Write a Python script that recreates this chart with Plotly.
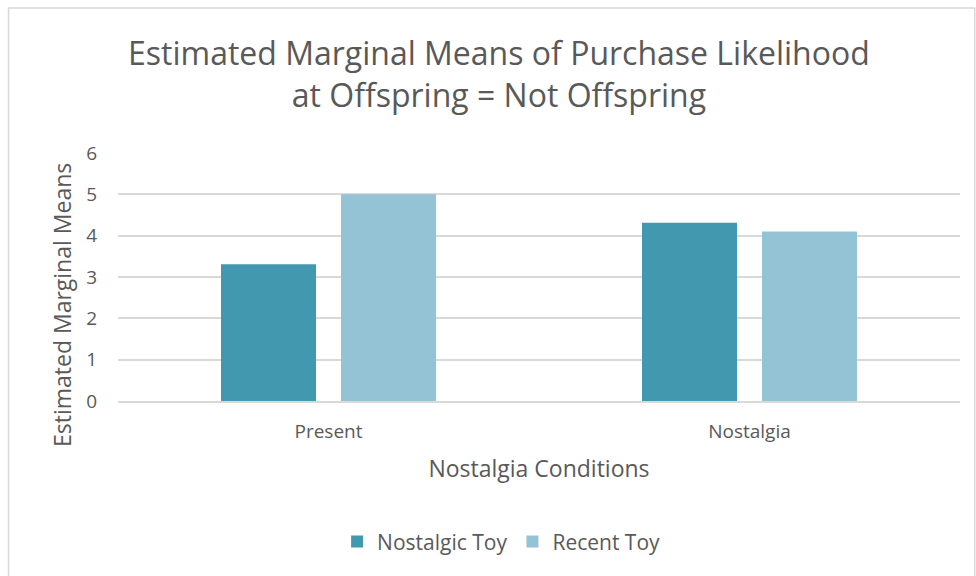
import plotly.graph_objects as go

categories = ["Present", "Nostalgia"]
nostalgic_toy = [3.31, 4.31]
recent_toy = [5.0, 4.1]
series_names = ["Nostalgic Toy", "Recent Toy"]
colors = ["#4298AF", "#93C3D5"]

FONT = "Open Sans"
GRAY = "#595959"

fig = go.Figure()
fig.add_trace(go.Bar(x=categories, y=nostalgic_toy, name=series_names[0],
                     marker=dict(color=colors[0], line=dict(width=0))))
fig.add_trace(go.Bar(x=categories, y=recent_toy, name=series_names[1],
                     marker=dict(color=colors[1], line=dict(width=0))))

fig.update_layout(
    width=976, height=576,
    paper_bgcolor="white", plot_bgcolor="white",
    margin=dict(l=118, r=16, t=153, b=175),
    barmode="group", bargap=0.43, bargroupgap=0.208,
    font=dict(family=FONT, color=GRAY),
    showlegend=True,
    legend=dict(orientation="h", x=0.455, xanchor="center", y=-0.568, yanchor="middle",
                font=dict(size=21, color=GRAY), itemwidth=30,
                traceorder="normal"),
    shapes=[dict(type="rect", xref="paper", yref="paper",
                 x0=-0.130, x1=1.0175, y0=-0.8, y1=1.585,
                 line=dict(color="#D9D9D9", width=1.5), fillcolor="rgba(0,0,0,0)", layer="below")],
    annotations=[
        dict(text="Estimated Marginal Means of Purchase Likelihood<br>at Offspring = Not Offspring",
             xref="paper", yref="paper", x=0.452, y=1.322, xanchor="center", yanchor="middle",
             showarrow=False, font=dict(size=32, color=GRAY, family=FONT)),
        dict(text="Estimated Marginal Means", textangle=-90,
             xref="paper", yref="paper", x=-0.0665, y=0.387, xanchor="center", yanchor="middle",
             showarrow=False, font=dict(size=23, color=GRAY, family=FONT)),
    ],
)
fig.update_xaxes(showgrid=False, showline=True, linecolor="#D9D9D9", linewidth=1.5,
                 ticks="", tickfont=dict(size=19, color=GRAY), ticklabelstandoff=12,
                 title=dict(text="Nostalgia Conditions", font=dict(size=23, color=GRAY), standoff=18))
fig.update_yaxes(range=[0, 6], dtick=1, showgrid=True, gridcolor="#D9D9D9", gridwidth=1.5,
                 zeroline=False, showline=False, ticks="", tickfont=dict(size=19, color=GRAY),
                 ticklabelstandoff=20)

fig.write_html("out.html")
